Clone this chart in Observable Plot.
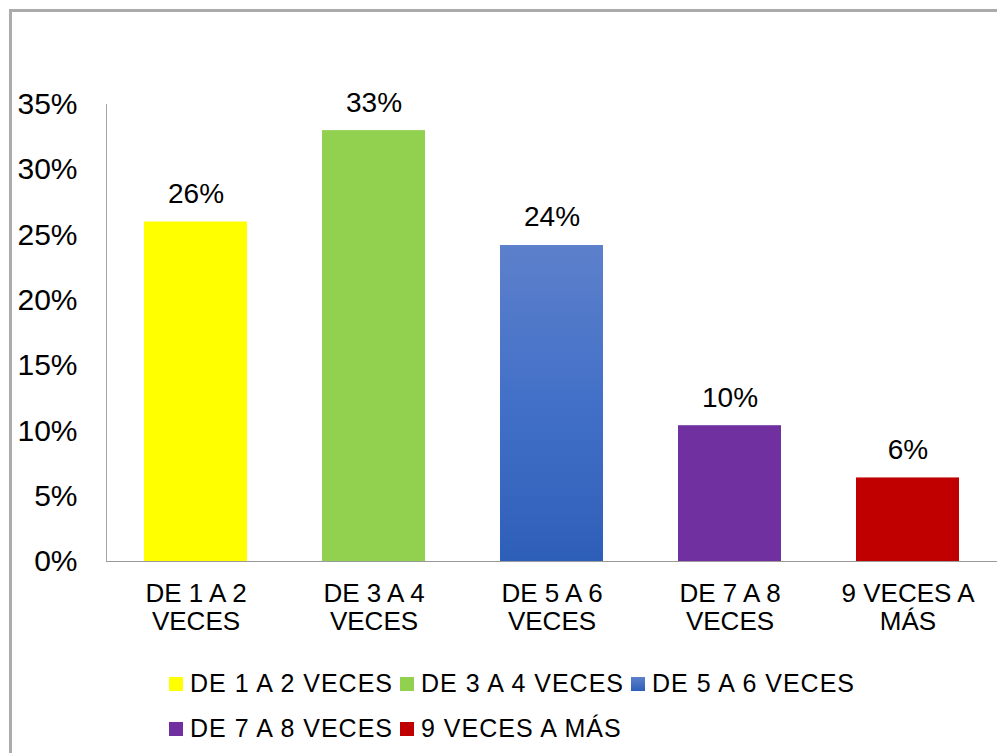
<!DOCTYPE html>
<html>
<head>
<meta charset="utf-8">
<script src="https://cdn.jsdelivr.net/npm/d3@7"></script>
<script src="https://cdn.jsdelivr.net/npm/@observablehq/plot@0.6"></script>
<style>
  html, body { margin: 0; padding: 0; background: #fff; overflow: hidden; }
  #wrap { position: relative; width: 997px; height: 753px; font-family: "Liberation Sans", Arial, sans-serif; }
  #frame { position: absolute; left: 9px; top: 9px; width: 1200px; height: 1000px; border-left: 3px solid #ababab; border-top: 3px solid #ababab; box-sizing: border-box; }
  #chart { position: absolute; left: 0; top: 0; }
  #legend { position: absolute; left: 169px; top: 661px; width: 720px; display: flex; flex-wrap: wrap; row-gap: 0; }
  .item { display: flex; align-items: center; height: 45px; margin-right: 7px; font-size: 25px; letter-spacing: 1px; color: #000; white-space: nowrap; }
  .sw { width: 14px; height: 14px; margin-right: 7px; flex: none; }
</style>
</head>
<body>
<div id="wrap">
  <div id="frame"></div>
  <div id="chart"></div>
  <div id="legend"></div>
</div>
<script>
const categories = ["DE 1 A 2 VECES", "DE 3 A 4 VECES", "DE 5 A 6 VECES", "DE 7 A 8 VECES", "9 VECES A MÁS"];
const tickLabels = ["DE 1 A 2\nVECES", "DE 3 A 4\nVECES", "DE 5 A 6\nVECES", "DE 7 A 8\nVECES", "9 VECES A\nMÁS"];
const values = [0.26, 0.33, 0.242, 0.104, 0.064];
const valueLabels = ["26%", "33%", "24%", "10%", "6%"];
const colors = ["#ffff00", "#92d050", "url(#blueGrad)", "#7030a0", "#c00000"];
const legendColors = ["#ffff00", "#92d050", "linear-gradient(#5d80cb, #2e5fb8)", "#7030a0", "#c00000"];
const yTicks = [0, 0.05, 0.10, 0.15, 0.20, 0.25, 0.30, 0.35];
const yTickLabels = ["0%", "5%", "10%", "15%", "20%", "25%", "30%", "35%"];

const data = categories.map((c, i) => ({cat: c, value: values[i], label: valueLabels[i], fill: colors[i]}));

function gradientDefs() {
  const ns = "http://www.w3.org/2000/svg";
  const defs = document.createElementNS(ns, "defs");
  const lg = document.createElementNS(ns, "linearGradient");
  lg.setAttribute("id", "blueGrad");
  lg.setAttribute("x1", "0"); lg.setAttribute("y1", "0");
  lg.setAttribute("x2", "0"); lg.setAttribute("y2", "1");
  [["0%", "#5d80cb"], ["50%", "#4270c8"], ["100%", "#2e5fb8"]].forEach(([o, c]) => {
    const s = document.createElementNS(ns, "stop");
    s.setAttribute("offset", o);
    s.setAttribute("stop-color", c);
    lg.appendChild(s);
  });
  defs.appendChild(lg);
  return defs;
}

const chart = Plot.plot({
  width: 997,
  height: 660,
  marginLeft: 106,
  marginRight: 0,
  marginTop: 104,
  marginBottom: 99,
  style: {fontFamily: "'Liberation Sans', Arial, sans-serif", background: "transparent", color: "#000", overflow: "visible"},
  x: {domain: categories, paddingInner: 0.42, paddingOuter: 0.21, label: null},
  y: {domain: [0, 0.35], label: null},
  color: {type: "identity"},
  marks: [
    gradientDefs,
    Plot.frame({anchor: "left", stroke: "#a6a6a6"}),
    Plot.barY(data, {x: "cat", y: "value", fill: "fill"}),
    Plot.ruleY([0], {stroke: "#9a9a9a"}),
    Plot.text(data, {x: "cat", y: "value", text: "label", dy: -28, fontSize: 28, fill: "#000"}),
    Plot.axisY(yTicks, {tickFormat: d => yTickLabels[yTicks.indexOf(d)], tickSize: 0, tickPadding: 29, fontSize: 30, label: null}),
    Plot.axisX({tickFormat: d => tickLabels[categories.indexOf(d)], tickSize: 0, tickPadding: 20, fontSize: 26, lineHeight: 1.1, label: null})
  ]
});
document.getElementById("chart").appendChild(chart);

const legend = document.getElementById("legend");
categories.forEach((c, i) => {
  const item = document.createElement("div");
  item.className = "item";
  const sw = document.createElement("span");
  sw.className = "sw";
  sw.style.background = legendColors[i];
  const t = document.createElement("span");
  t.textContent = c;
  item.appendChild(sw);
  item.appendChild(t);
  legend.appendChild(item);
});
</script>
</body>
</html>
